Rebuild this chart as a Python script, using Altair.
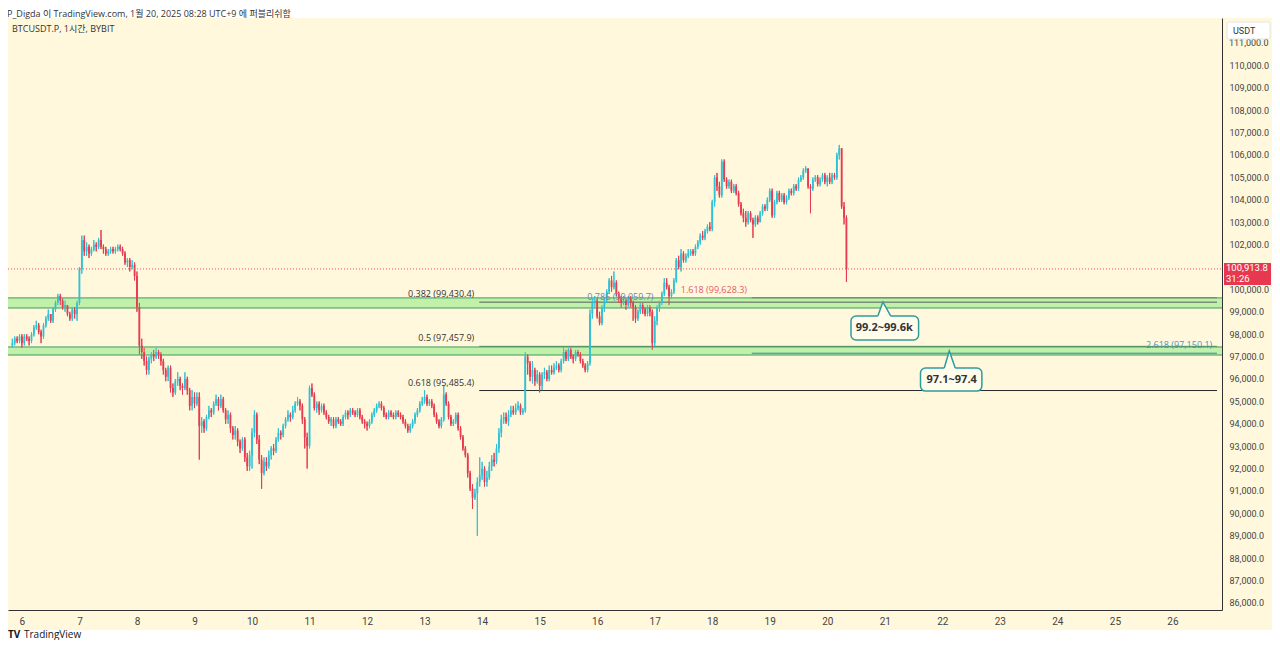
import altair as alt
import pandas as pd

# ---------------- data (prices in thousands of USDT, hourly candles) ----------------
# first candle = Jan 5 20:00 (UTC+9), last = Jan 20 08:00; t = hours since Jan 6 00:00
first_hour = -4
first_open_k = 97.5

close_k = [
    # Jan 5 (20-23h)
    97.6, 97.8, 97.7, 97.9,
    # Jan 6
    97.6, 97.9, 97.8, 97.7, 98.0, 98.3, 98.4, 98.1, 97.9, 98.4, 98.7, 98.9,
    98.6, 99.1, 99.4, 99.7, 99.5, 99.2, 99.3, 98.9, 98.7, 99.1, 98.9, 99.4,
    # Jan 7
    100.9, 102.2, 101.7, 101.9, 101.6, 101.8, 102.0, 101.9, 102.2, 101.9, 101.8, 101.6,
    101.7, 101.8, 101.7, 101.8, 101.9, 101.8, 101.6, 101.2, 101.3, 101.0, 101.1, 100.6,
    # Jan 8
    99.2, 97.5, 97.2, 96.8, 96.4, 96.9, 97.1, 97.0, 97.2, 97.1, 96.8, 96.4,
    96.1, 96.5, 95.6, 95.4, 95.9, 96.0, 95.7, 95.6, 96.0, 95.5, 94.8, 95.2,
    # Jan 9
    94.9, 95.2, 93.9, 94.1, 93.8, 94.3, 94.6, 94.5, 94.9, 95.1, 94.8, 95.1,
    94.6, 94.2, 94.4, 93.8, 93.5, 93.7, 93.2, 92.9, 93.3, 92.5, 92.1, 92.6,
    # Jan 10
    93.6, 94.4, 93.3, 92.4, 91.8, 92.3, 92.1, 92.6, 92.9, 92.8, 93.3, 93.6,
    93.5, 93.9, 94.2, 94.4, 94.3, 94.6, 94.9, 95.0, 94.8, 94.2, 93.4, 93.0,
    # Jan 11
    95.6, 95.3, 94.7, 94.9, 94.6, 94.8, 94.5, 94.3, 94.1, 94.2, 93.9, 94.2,
    94.1, 94.0, 94.3, 94.5, 94.4, 94.6, 94.5, 94.4, 94.6, 94.3, 94.1, 94.0,
    # Jan 12
    93.9, 94.1, 94.4, 94.6, 94.8, 94.9, 94.7, 94.4, 94.3, 94.5, 94.4, 94.3,
    94.5, 94.4, 94.3, 94.1, 93.9, 93.7, 93.9, 94.1, 94.4, 94.6, 94.9, 95.0,
    # Jan 13
    95.2, 94.9, 95.0, 94.8, 94.4, 94.1, 93.9, 94.2, 95.3, 94.9, 94.3, 94.0,
    94.1, 94.4, 93.8, 93.4, 92.9, 92.6, 91.8, 91.1, 90.7, 90.9, 91.4, 91.7,
    # Jan 14
    92.0, 91.4, 91.6, 92.1, 92.4, 92.3, 92.9, 93.6, 94.2, 94.3, 94.1, 94.4,
    94.6, 94.5, 94.7, 94.8, 94.5, 94.6, 97.0, 96.7, 96.1, 96.4, 95.9, 96.2,
    # Jan 15
    95.7, 96.2, 96.3, 96.0, 96.4, 96.3, 96.5, 96.6, 96.4, 96.8, 97.2, 96.9,
    97.3, 97.0, 96.9, 97.2, 97.1, 96.8, 96.6, 96.4, 96.7, 98.9, 99.4, 99.5,
    # Jan 16
    98.8, 98.5, 99.2, 99.5, 99.9, 100.4, 100.1, 100.3, 99.8, 99.6, 99.4, 99.5,
    99.3, 99.6, 99.4, 99.2, 98.7, 99.0, 99.3, 99.1, 98.9, 99.2, 99.0, 97.6,
    # Jan 17
    98.6, 99.2, 99.4, 99.8, 100.3, 100.1, 99.7, 99.9, 100.4, 101.3, 101.0, 101.6,
    101.3, 101.5, 101.6, 101.7, 101.6, 101.9, 102.1, 102.4, 102.3, 102.6, 102.8, 102.7,
    # Jan 18
    103.9, 105.0, 104.6, 104.2, 105.7, 104.9, 104.6, 104.8, 104.4, 104.6, 104.3, 103.8,
    103.4, 103.2, 103.0, 103.4, 103.1, 102.9, 103.2, 103.0, 103.4, 103.7, 103.6, 104.0,
    # Jan 19
    104.4, 103.3, 103.9, 104.3, 104.0, 104.2, 103.9, 104.1, 104.4, 104.3, 104.6, 104.5,
    104.9, 105.0, 105.3, 105.4, 104.6, 104.5, 104.9, 105.0, 104.7, 104.9, 105.1, 104.8,
    # Jan 20 (00-08h)
    105.0, 104.8, 105.1, 105.0, 106.0, 106.3, 103.7, 103.2, 100.9138,
]

high_k = [
    97.8, 97.9, 97.9, 98.0,
    98.0, 98.0, 98.0, 97.9, 98.1, 98.4, 98.6, 98.5, 98.2, 98.5, 98.8, 99.1,
    98.9, 99.2, 99.5, 99.8, 99.8, 99.6, 99.5, 99.3, 99.0, 99.2, 99.2, 99.5,
    101.0, 102.4, 102.4, 102.1, 102.0, 101.9, 102.2, 102.1, 102.3, 102.65, 102.0, 101.9,
    101.8, 101.9, 101.9, 101.9, 102.0, 102.0, 101.9, 101.7, 101.4, 101.4, 101.3, 101.2,
    100.8, 99.4, 97.8, 97.4, 97.0, 97.0, 97.2, 97.3, 97.4, 97.3, 97.2, 96.9,
    96.5, 96.6, 96.6, 95.8, 96.0, 96.3, 96.1, 95.8, 96.3, 96.1, 95.6, 95.5,
    95.4, 95.4, 95.4, 94.3, 94.2, 94.4, 94.8, 94.7, 95.0, 95.3, 95.2, 95.3,
    95.2, 94.7, 94.6, 94.5, 93.9, 93.9, 93.8, 93.3, 93.4, 93.4, 92.7, 92.8,
    93.8, 94.6, 94.5, 93.5, 92.6, 92.5, 92.5, 92.8, 93.0, 93.1, 93.4, 93.8,
    93.7, 94.0, 94.3, 94.6, 94.5, 94.8, 95.0, 95.2, 95.1, 94.9, 94.3, 93.6,
    95.7, 95.8, 95.4, 95.0, 95.0, 94.9, 94.9, 94.6, 94.4, 94.3, 94.3, 94.3,
    94.3, 94.2, 94.4, 94.6, 94.6, 94.7, 94.7, 94.6, 94.7, 94.7, 94.4, 94.2,
    94.1, 94.2, 94.5, 94.7, 94.9, 95.0, 95.0, 94.8, 94.5, 94.6, 94.6, 94.5,
    94.6, 94.6, 94.5, 94.4, 94.2, 94.0, 94.0, 94.2, 94.5, 94.7, 95.0, 95.2,
    95.5, 95.3, 95.1, 95.1, 94.9, 94.5, 94.2, 94.3, 95.7, 95.4, 95.0, 94.4,
    94.2, 94.5, 94.5, 93.9, 93.5, 93.0, 92.7, 91.9, 91.3, 91.1, 91.6, 92.5,
    92.3, 92.1, 91.9, 92.3, 92.6, 92.7, 93.1, 93.8, 94.4, 94.5, 94.5, 94.6,
    94.8, 94.8, 94.9, 95.0, 94.9, 94.7, 97.2, 97.1, 96.8, 96.8, 96.5, 96.4,
    96.3, 96.3, 96.5, 96.4, 96.6, 96.6, 96.7, 96.8, 96.7, 96.9, 97.4, 97.3,
    97.4, 97.4, 97.1, 97.3, 97.3, 97.2, 96.9, 96.7, 96.8, 99.1, 99.6, 99.7,
    99.6, 99.0, 99.3, 99.6, 100.0, 100.5, 100.6, 100.8, 100.4, 99.9, 99.7, 99.7,
    99.6, 99.7, 99.7, 99.5, 99.3, 99.1, 99.4, 99.4, 99.2, 99.3, 99.3, 99.1,
    98.8, 99.3, 99.5, 99.9, 100.5, 100.5, 100.2, 100.0, 100.5, 101.4, 101.5, 101.8,
    101.7, 101.6, 101.8, 101.8, 101.8, 102.0, 102.2, 102.5, 102.6, 102.7, 102.9, 103.0,
    104.0, 105.1, 105.2, 104.8, 105.8, 105.8, 105.0, 104.9, 104.9, 104.7, 104.7, 104.4,
    103.9, 103.6, 103.5, 103.5, 103.5, 103.2, 103.3, 103.3, 103.5, 103.8, 103.8, 104.1,
    104.5, 104.5, 104.0, 104.4, 104.4, 104.3, 104.3, 104.2, 104.5, 104.5, 104.7, 104.7,
    105.0, 105.1, 105.4, 105.5, 105.4, 104.7, 105.0, 105.1, 105.1, 105.0, 105.2, 105.2,
    105.1, 105.2, 105.2, 105.2, 106.1, 106.45, 106.3, 103.9, 103.3,
]

low_k = [
    97.4, 97.5, 97.6, 97.6,
    97.4, 97.5, 97.7, 97.5, 97.6, 97.9, 98.2, 98.0, 97.6, 97.8, 98.3, 98.6,
    98.5, 98.5, 99.0, 99.3, 99.3, 99.1, 99.0, 98.8, 98.6, 98.6, 98.7, 98.6,
    99.3, 100.7, 101.5, 101.5, 101.4, 101.5, 101.7, 101.7, 101.8, 101.8, 101.6, 101.5,
    101.5, 101.6, 101.6, 101.6, 101.7, 101.7, 101.5, 101.1, 101.0, 100.8, 100.9, 100.4,
    99.0, 97.1, 96.9, 96.6, 96.2, 96.2, 96.7, 96.8, 96.9, 96.9, 96.6, 96.2,
    95.9, 95.9, 95.4, 95.2, 95.3, 95.7, 95.5, 95.3, 95.5, 95.3, 94.6, 94.6,
    94.7, 94.8, 92.4, 93.6, 93.6, 93.7, 94.2, 94.3, 94.4, 94.8, 94.6, 94.7,
    94.5, 94.0, 94.0, 93.6, 93.3, 93.3, 93.0, 92.7, 92.8, 92.3, 91.9, 91.9,
    92.0, 93.4, 93.1, 92.2, 91.1, 91.7, 91.9, 92.0, 92.4, 92.6, 92.7, 93.2,
    93.3, 93.4, 93.8, 94.1, 94.1, 94.2, 94.5, 94.8, 94.6, 94.0, 92.9, 92.0,
    92.9, 95.2, 94.6, 94.5, 94.4, 94.5, 94.4, 94.2, 94.0, 93.9, 93.8, 93.8,
    94.0, 93.9, 93.9, 94.2, 94.2, 94.3, 94.4, 94.3, 94.3, 94.2, 94.0, 93.8,
    93.7, 93.8, 94.0, 94.3, 94.5, 94.7, 94.6, 94.3, 94.2, 94.2, 94.3, 94.2,
    94.2, 94.3, 94.2, 94.0, 93.8, 93.6, 93.6, 93.8, 94.0, 94.3, 94.5, 94.8,
    94.9, 94.8, 94.8, 94.7, 94.3, 94.0, 93.8, 93.8, 94.1, 94.8, 94.2, 93.9,
    93.9, 94.0, 93.7, 93.3, 92.8, 92.5, 91.6, 91.0, 90.2, 90.6, 89.0, 91.2,
    91.5, 91.2, 91.2, 91.5, 91.9, 92.1, 92.2, 92.7, 93.4, 94.0, 94.0, 93.9,
    94.3, 94.4, 94.4, 94.6, 94.4, 94.4, 94.5, 96.2, 95.9, 95.8, 95.7, 95.8,
    95.4, 95.5, 96.0, 95.9, 95.9, 96.2, 96.2, 96.4, 96.3, 96.3, 96.7, 96.8,
    96.8, 96.9, 96.7, 96.8, 97.0, 96.7, 96.5, 96.3, 96.3, 96.6, 98.7, 99.2,
    98.7, 98.4, 98.4, 99.0, 99.4, 99.8, 99.9, 100.0, 99.7, 99.4, 99.2, 99.3,
    99.1, 99.2, 99.2, 98.6, 98.5, 98.6, 98.9, 98.9, 98.8, 98.8, 98.8, 97.3,
    97.4, 98.4, 99.0, 99.3, 99.7, 100.0, 99.3, 99.6, 99.8, 100.3, 100.9, 100.8,
    101.2, 101.2, 101.4, 101.5, 101.5, 101.5, 101.8, 102.0, 102.2, 102.2, 102.5, 102.6,
    102.6, 103.7, 104.4, 104.1, 104.1, 104.8, 104.5, 104.5, 104.3, 104.3, 104.2, 103.7,
    103.3, 103.0, 102.8, 102.9, 103.0, 102.3, 102.8, 102.9, 103.0, 103.3, 103.5, 103.5,
    103.9, 103.2, 103.2, 103.8, 103.9, 103.9, 103.8, 103.8, 104.0, 104.2, 104.2, 104.4,
    104.4, 104.8, 104.9, 105.2, 104.5, 103.4, 104.4, 104.8, 104.6, 104.6, 104.8, 104.7,
    104.6, 104.7, 104.7, 104.9, 104.9, 105.8, 103.6, 102.9, 100.33,
]

day_ticks = list(range(0, 481, 24))            # Jan 6 .. Jan 26 at 00:00
# 101,000 sits under the last-price badge and 111,000 under the USDT box
price_ticks = [p for p in range(86000, 111000, 1000) if p != 101000]

zone_lo = [99170, 97070]
zone_hi = [99620, 97430]

fib_prices = [99430.4, 97457.9, 95485.4]
fib_texts = ["0.382 (99,430.4)", "0.5 (97,457.9)", "0.618 (95,485.4)"]
ext_prices = [99628.3, 97150.1]
ext_texts = ["1.618 (99,628.3)", "2.618 (97,150.1)"]
ret_texts = ["0.786 (99,059.7)"]

last_price = 100913.8
countdown = "31:26"

callout_texts = ["99.2~99.6k", "97.1~97.4"]

# ---------------- styles / layout ----------------
FONT = "Open Sans, Noto Sans CJK KR, sans-serif"
AFONT = "Roboto, Liberation Sans, sans-serif"
UP, DOWN = "#2FC1D6", "#E63B50"
BG = "#FFF8DC"
W, H = 1214, 592
T0, T1 = -3.72, 498.6
P0, P1 = 85687, 112116
xs = alt.Scale(domain=[T0, T1], nice=False, zero=False)
ys = alt.Scale(domain=[P0, P1], nice=False, zero=False)
FIB_START = 190.8
EXT_START = 304.5

# ---------------- tables ----------------
rows = []
prev = first_open_k
for i, (c, h, l) in enumerate(zip(close_k, high_k, low_k)):
    o = prev
    rows.append(dict(t=first_hour + i, o=o * 1000, c=c * 1000,
                     h=max(h, o, c) * 1000, l=min(l, o, c) * 1000,
                     dir="up" if c >= o else "down"))
    prev = c
candles = pd.DataFrame(rows)

zones = pd.DataFrame({"lo": zone_lo, "hi": zone_hi})
zone_edges = pd.DataFrame({"p": zone_lo + zone_hi})
fibs = pd.DataFrame({"p": fib_prices, "label": fib_texts,
                     "ts": [FIB_START] * 3, "te": [T1] * 3,
                     "col": ["#56605A", "#4F8F5F", "#2A2A2A"]})
exts = pd.DataFrame({"p": ext_prices, "label": ext_texts,
                     "ts": [EXT_START] * 2, "te": [T1] * 2,
                     "col": ["#7A7A7A", "#2F86B8"], "tcol": ["#E4586A", "#4A93C4"],
                     "tx": [302.5, 496.6]})

dcolor = alt.Color("dir:N", scale=alt.Scale(domain=["up", "down"], range=[UP, DOWN]), legend=None)

xaxis = alt.Axis(values=day_ticks, labelExpr="format(datum.value/24+6, 'd')", orient="bottom",
                 domainColor="#333333", ticks=False, grid=False, labelColor="#444444",
                 labelFontSize=10, labelPadding=6, title=None, zindex=1, labelOverlap=False,
                 labelFont=AFONT)
yaxis = alt.Axis(orient="right", values=price_ticks, format=",.1f", ticks=False, grid=False,
                 domainColor="#333333", labelColor="#444444", labelFontSize=9, labelPadding=7,
                 title=None, zindex=1, labelFont=AFONT, labelOverlap=False)


def X(field, **kw):
    return alt.X(field, scale=xs, axis=xaxis, **kw)


def Y(field=alt.Undefined, **kw):
    return alt.Y(field, scale=ys, axis=yaxis, **kw)


one = pd.DataFrame({"a": [0]})

# white strips outside the panel (header and footer)
strip_top = alt.Chart(one).mark_rect(color="white").encode(
    x=alt.value(-8), x2=alt.value(1264), y=alt.value(-12), y2=alt.value(0))
strip_bot = alt.Chart(one).mark_rect(color="white").encode(
    x=alt.value(-8), x2=alt.value(1264), y=alt.value(612), y2=alt.value(640))

zone_fill = alt.Chart(zones).mark_rect(color="#BDEFA6", opacity=0.95).encode(
    x=alt.value(0), x2=alt.value(W), y=Y("lo:Q"), y2="hi:Q")
zone_line = alt.Chart(zone_edges).mark_rule(color="#3E9A5C", strokeWidth=1).encode(
    x=alt.value(0), x2=alt.value(W), y=Y("p:Q"))

fib_line = alt.Chart(fibs).mark_rule(strokeWidth=1).encode(
    x=X("ts:Q"), x2="te:Q", y=Y("p:Q"), color=alt.Color("col:N", scale=None))
fib_text = alt.Chart(fibs).mark_text(align="right", baseline="bottom", dx=-5, dy=-3, fontSize=9,
                                     color="#333333", font=FONT).encode(
    x=X("ts:Q"), y=Y("p:Q"), text="label:N")

ext_line = alt.Chart(exts).mark_rule(strokeWidth=1).encode(
    x=X("ts:Q"), x2="te:Q", y=Y("p:Q"), color=alt.Color("col:N", scale=None))
ext_text = alt.Chart(exts).mark_text(align="right", baseline="bottom", dy=-3, fontSize=9, font=FONT).encode(
    x=X("tx:Q"), y=Y("p:Q"), text="label:N", color=alt.Color("tcol:N", scale=None))
ret_text = alt.Chart(pd.DataFrame({"t": [235.9], "p": [99450], "label": ret_texts})).mark_text(
    align="left", baseline="bottom", fontSize=9, color="#5E8DB8", font=FONT).encode(
    x=X("t:Q"), y=Y("p:Q"), text="label:N")

wick = alt.Chart(candles).mark_rule(strokeWidth=1).encode(
    x=X("t:Q"), y=Y("l:Q"), y2="h:Q", color=dcolor)
body = alt.Chart(candles).mark_bar(size=1.8).encode(
    x=X("t:Q"), y=Y("o:Q"), y2="c:Q", color=dcolor)

price_line = alt.Chart(one).mark_rule(color="#E8505F", strokeWidth=1, strokeDash=[1, 2]).encode(
    x=alt.value(0), x2=alt.value(W), y=Y(datum=last_price))

# callouts
cb = pd.DataFrame({"label": callout_texts, "t0": [345.9, 374.9], "t1": [374.1, 400.5],
                   "ptop": [98810, 96490], "pbot": [97740, 95460],
                   "tx": [359.8, 387.9], "py": [98275, 95975]})
ptr = pd.DataFrame({"id": ["a", "a", "a", "b", "b", "b"], "k": [0, 1, 2, 0, 1, 2],
                    "t": [357.1, 359.2, 362.5, 384.8, 386.9, 389.4],
                    "p": [98810, 99440, 98810, 96490, 97250, 96490],
                    "base": [98760, 98760, 98760, 96440, 96440, 96440]})
call_box = alt.Chart(cb).mark_rect(fill="#FFFCEC", stroke="#2E9C9C", strokeWidth=1.5, cornerRadius=5).encode(
    x=X("t0:Q"), x2="t1:Q", y=Y("ptop:Q"), y2="pbot:Q")
call_ptr_fill = alt.Chart(ptr).mark_area(color="#FFFCEC", interpolate="linear").encode(
    x=X("t:Q"), y=Y("p:Q"), y2="base:Q", detail="id:N")
call_ptr = alt.Chart(ptr).mark_line(color="#2E9C9C", strokeWidth=1.5).encode(
    x=X("t:Q"), y=Y("p:Q"), detail="id:N", order="k:Q")
call_text = alt.Chart(cb).mark_text(fontSize=11, fontWeight="bold", color="#333333", font=FONT).encode(
    x=X("tx:Q"), y=Y("py:Q"), text="label:N")

# price badge on the axis
badge = alt.Chart(one).mark_rect(color="#E8384F").encode(
    x=alt.value(1216), x2=alt.value(1263), y=Y(datum=last_price + 270), y2=alt.datum(last_price - 720))
badge_price = alt.Chart(one).mark_text(align="left", baseline="middle", fontSize=9.5, color="white", dy=-1,
                                       font=AFONT).encode(
    x=alt.value(1218), y=Y(datum=last_price), text=alt.value(f"{last_price:,.1f}"))
badge_cd = alt.Chart(one).mark_text(align="left", baseline="middle", fontSize=9.5, color="white", dy=10,
                                    font=AFONT).encode(
    x=alt.value(1218), y=Y(datum=last_price), text=alt.value(countdown))

top_label = alt.Chart(one).mark_text(align="left", baseline="middle", fontSize=9, color="#444444",
                                     font=AFONT).encode(
    x=alt.value(1221), y=Y(datum=111000), text=alt.value("111,000.0"))
usdt_box = alt.Chart(one).mark_rect(fill="white", stroke="#E4E4E4", strokeWidth=1, cornerRadius=2).encode(
    x=alt.value(1219), x2=alt.value(1262), y=alt.value(4), y2=alt.value(21))
usdt_text = alt.Chart(one).mark_text(align="left", baseline="middle", fontSize=9, color="#333333",
                                     font=AFONT).encode(
    x=alt.value(1225), y=alt.value(12.5), text=alt.value("USDT"))

header = alt.Chart(one).mark_text(align="left", baseline="middle", fontSize=9, color="#333333",
                                  font=FONT).encode(
    x=alt.value(-1), y=alt.value(-4),
    text=alt.value("P_Digda 이 TradingView.com, 1월 20, 2025 08:28 UTC+9 에 퍼블리쉬함"))
symbol = alt.Chart(one).mark_text(align="left", baseline="middle", fontSize=9, color="#333333",
                                  font=FONT).encode(
    x=alt.value(4), y=alt.value(11), text=alt.value("BTCUSDT.P, 1시간, BYBIT"))
logo_mark = alt.Chart(one).mark_text(align="left", baseline="middle", fontSize=10, fontWeight="bold",
                                     color="#131722", font=FONT).encode(
    x=alt.value(0), y=alt.value(617), text=alt.value("TV"))
logo_text = alt.Chart(one).mark_text(align="left", baseline="middle", fontSize=10, color="#131722",
                                     font=FONT).encode(
    x=alt.value(16), y=alt.value(617), text=alt.value("TradingView"))

chart = alt.layer(
    wick, strip_top, strip_bot, zone_fill, zone_line, fib_line, ext_line, wick, body, price_line,
    fib_text, ext_text, ret_text,
    call_box, call_ptr_fill, call_ptr, call_text,
    top_label, usdt_box, usdt_text, badge, badge_price, badge_cd,
    header, symbol, logo_mark, logo_text,
).properties(
    width=W, height=H, autosize="none",
    padding={"left": 0, "top": 10, "right": 50, "bottom": 30},
).configure(background=BG, font=FONT).configure_view(stroke=None)

chart.save("out.html", embed_options={"renderer": "svg", "actions": False})
